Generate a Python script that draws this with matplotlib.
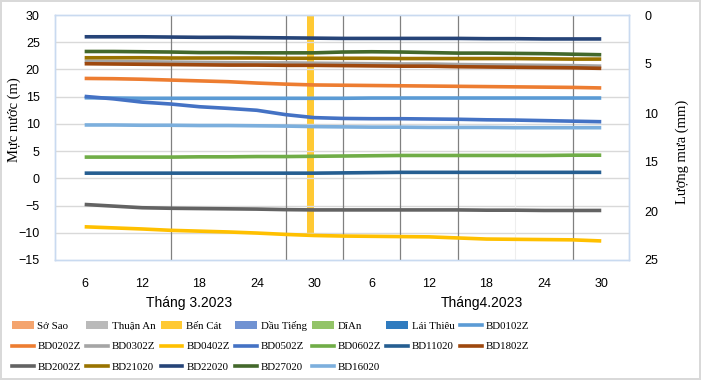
import matplotlib
matplotlib.use("Agg")
import matplotlib.pyplot as plt
from matplotlib.patches import Patch
from matplotlib.lines import Line2D

# category index of each reading (every 3rd day from 6/3 to 30/4)
x = [0, 3, 6, 9, 12, 15, 18, 21, 24, 27, 30, 33, 36, 39, 42, 45, 48, 51, 54]
tick_pos = [0, 6, 12, 18, 24, 30, 36, 42, 48, 54]
tick_labels = ["6", "12", "18", "24", "30", "6", "12", "18", "24", "30"]

# water level (m)
BD0102Z = [14.8, 14.75, 14.7, 14.7, 14.7, 14.7, 14.7, 14.7, 14.7, 14.7, 14.75, 14.75, 14.75, 14.75, 14.75, 14.75, 14.75, 14.75, 14.75]
BD0202Z = [18.35, 18.3, 18.2, 18.05, 17.9, 17.75, 17.5, 17.3, 17.15, 17.1, 17.05, 17.0, 16.95, 16.9, 16.85, 16.8, 16.75, 16.7, 16.6]
BD0302Z = [21.5, 21.45, 21.4, 21.35, 21.3, 21.25, 21.2, 21.2, 21.15, 21.1, 21.05, 21.0, 21.0, 20.9, 20.85, 20.8, 20.75, 20.7, 20.6]
BD0402Z = [-8.9, -9.1, -9.3, -9.55, -9.7, -9.85, -10.05, -10.3, -10.5, -10.6, -10.65, -10.7, -10.75, -10.95, -11.15, -11.2, -11.25, -11.3, -11.5]
BD0502Z = [15.05, 14.6, 14.0, 13.65, 13.15, 12.85, 12.5, 11.7, 11.15, 11.0, 10.95, 10.95, 10.9, 10.85, 10.75, 10.7, 10.6, 10.5, 10.4]
BD0602Z = [3.9, 3.9, 3.9, 3.9, 3.95, 3.95, 4.0, 4.0, 4.05, 4.1, 4.15, 4.2, 4.2, 4.2, 4.2, 4.2, 4.2, 4.25, 4.25]
BD11020 = [0.95, 0.95, 0.95, 0.95, 0.95, 0.95, 0.95, 0.95, 0.95, 1.0, 1.05, 1.1, 1.1, 1.1, 1.1, 1.1, 1.1, 1.1, 1.1]
BD1802Z = [21.05, 21.0, 20.95, 20.9, 20.85, 20.8, 20.8, 20.75, 20.75, 20.7, 20.65, 20.6, 20.6, 20.5, 20.45, 20.4, 20.35, 20.3, 20.2]
BD2002Z = [-4.8, -5.1, -5.4, -5.5, -5.55, -5.6, -5.65, -5.75, -5.8, -5.8, -5.8, -5.8, -5.8, -5.8, -5.85, -5.85, -5.9, -5.9, -5.9]
BD21020 = [22.15, 22.15, 22.15, 22.1, 22.1, 22.1, 22.1, 22.05, 22.05, 22.05, 22.05, 22.0, 22.0, 22.0, 22.0, 22.0, 21.95, 21.9, 21.9]
BD22020 = [26.0, 26.0, 26.0, 25.95, 25.9, 25.9, 25.85, 25.8, 25.75, 25.7, 25.7, 25.7, 25.7, 25.7, 25.65, 25.65, 25.6, 25.6, 25.6]
BD27020 = [23.3, 23.3, 23.25, 23.2, 23.1, 23.1, 23.05, 23.05, 23.05, 23.2, 23.25, 23.2, 23.1, 23.0, 23.0, 22.95, 22.9, 22.8, 22.7]
BD16020 = [9.8, 9.8, 9.75, 9.75, 9.7, 9.7, 9.65, 9.6, 9.5, 9.45, 9.4, 9.4, 9.35, 9.35, 9.35, 9.3, 9.3, 9.3, 9.3]

# rainfall (mm) - only one rainy day shows up
rain_x = [24]
rain_stations = ["Sở Sao", "Thuận An", "Bến Cát", "Dầu Tiếng", "DĩAn", "Lái Thiêu"]
rain_values = [[0], [0], [22.3], [0], [0], [0]]
rain_colors = ["#f4a46e", "#bababa", "#ffc933", "#7092d2", "#93c468", "#2f7bbf"]

wells = [("BD0102Z", BD0102Z, "#5b9bd5"), ("BD0202Z", BD0202Z, "#ed7d31"),
         ("BD0302Z", BD0302Z, "#a5a5a5"), ("BD0402Z", BD0402Z, "#ffc000"),
         ("BD0502Z", BD0502Z, "#4472c4"), ("BD0602Z", BD0602Z, "#70ad47"),
         ("BD11020", BD11020, "#255e91"), ("BD1802Z", BD1802Z, "#9e480e"),
         ("BD2002Z", BD2002Z, "#636363"), ("BD21020", BD21020, "#997300"),
         ("BD22020", BD22020, "#264478"), ("BD27020", BD27020, "#43682b"),
         ("BD16020", BD16020, "#7cafdd")]

sans = ["Liberation Sans", "DejaVu Sans"]
serif = ["Liberation Serif", "DejaVu Serif"]

fig = plt.figure(figsize=(7.01, 3.80), dpi=100)
fig.patch.set_edgecolor("#d9d9d9")
fig.patch.set_linewidth(1.5)
ax = fig.add_axes([55 / 701, 1 - 260 / 380, 574 / 701, 245 / 380])
ax2 = ax.twinx()

# rain bars on the secondary (inverted) axis
bw = 0.76
for k, (name, vals, c) in enumerate(zip(rain_stations, rain_values, rain_colors)):
    ax2.bar([p + (k - 2.5) * bw for p in rain_x], vals, bw, color=c, zorder=2)
ax2.set_ylim(25, 0)
ax2.set_yticks([0, 5, 10, 15, 20, 25])

for name, vals, c in wells:
    ax.plot(x, vals, color=c, lw=2.6, solid_capstyle="butt", zorder=3)

ax.set_zorder(ax2.get_zorder() + 1)
ax.patch.set_visible(False)

ax.set_xlim(-3.1, 56.9)
ax.set_ylim(-15, 30)
ax.set_yticks(range(-15, 31, 5))
ax.set_xticks(tick_pos)
ax.set_xticklabels(tick_labels)
for y in range(-10, 30, 5):
    ax.axhline(y, color="#d9d9d9", lw=1.0, zorder=1)
for v in [9, 21, 27, 33, 39, 51]:
    ax.axvline(v, color="#808080", lw=0.9, zorder=1)
ax.axvline(45, color="#eeeeee", lw=0.8, zorder=1)

for a in (ax, ax2):
    for s in a.spines.values():
        s.set_color("#c9daf0")
        s.set_linewidth(1.0)
    a.tick_params(length=0, labelsize=9)
    for lab in a.get_xticklabels() + a.get_yticklabels():
        lab.set_family(sans)
ax.tick_params(axis="y", pad=11)
ax.tick_params(axis="x", pad=13)
ax2.tick_params(axis="y", pad=11)

fig.text(14 / 701, 1 - 120 / 380, "Mực nước (m)", rotation=90, ha="center", va="center",
         family=serif, fontsize=10.5)
fig.text(682 / 701, 1 - 152 / 380, "Lượng mưa (mm)", rotation=90, ha="center", va="center",
         family=serif, fontsize=10.5)
fig.text(189 / 701, 1 - 303 / 380, "Tháng 3.2023", ha="center", va="center", family=sans, fontsize=10)
fig.text(482 / 701, 1 - 303 / 380, "Tháng4.2023", ha="center", va="center", family=sans, fontsize=10)

# legend, filled row by row like the original
items = [(Patch(facecolor=c), n) for n, c in zip(rain_stations, rain_colors)]
items += [(Line2D([], [], color=c, lw=2.6), n) for n, v, c in wells]
ncol = 7
rows = [items[i:i + ncol] for i in range(0, len(items), ncol)]
ordered = []
for c in range(ncol):
    for r in rows:
        if c < len(r):
            ordered.append(r[c])
fig.legend([h for h, l in ordered], [l for h, l in ordered], ncol=ncol,
           loc="upper left", bbox_to_anchor=(12 / 701, 1 - 321 / 380),
           frameon=False, borderpad=0, borderaxespad=0, handlelength=2.0,
           handletextpad=0.35, columnspacing=0.5, labelspacing=1.0,
           prop={"family": serif, "size": 7.8})

fig.savefig("out.png", dpi=100)
